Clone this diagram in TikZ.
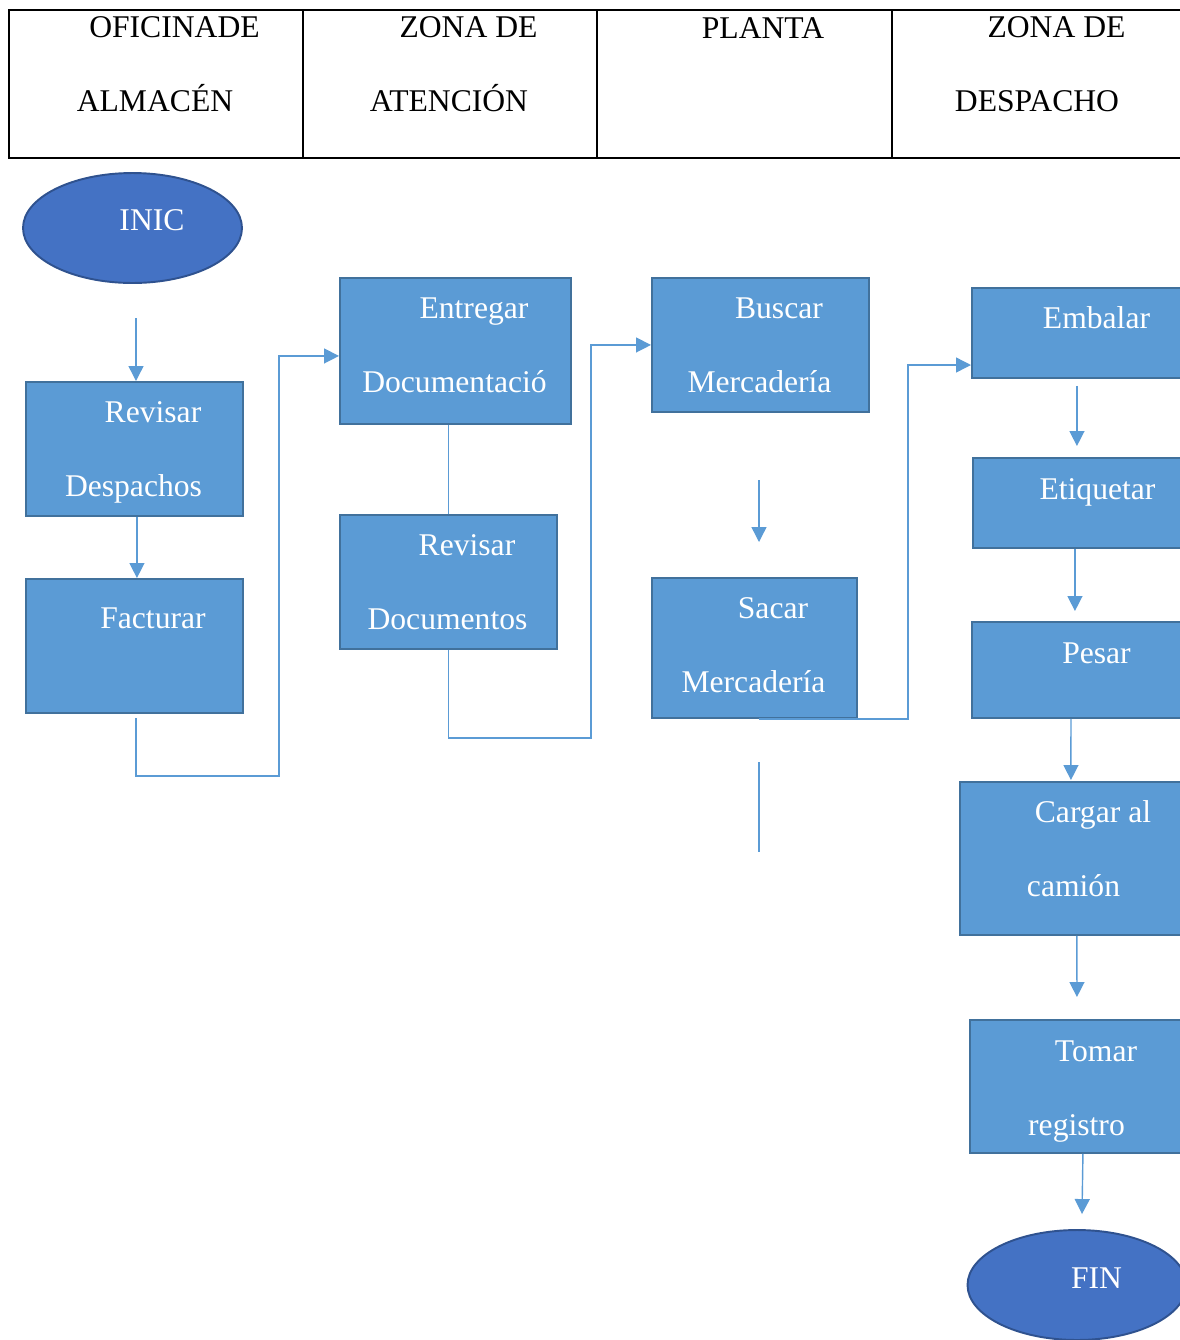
\documentclass[tikz,border=0pt]{standalone}
\usepackage{fontspec}
\setmainfont{Liberation Serif}
\usepackage{tikz}
\usetikzlibrary{shapes.geometric, arrows.meta, calc}
\usepackage{xcolor}
\definecolor{procfill}{RGB}{91, 155, 213}
\definecolor{procedge}{RGB}{65, 113, 156}
\definecolor{termfill}{RGB}{68, 114, 196}
\definecolor{termedge}{RGB}{47, 82, 143}
\definecolor{flowblue}{RGB}{91, 155, 213}
\newcommand{\firstind}{\hspace*{0.78cm}}

\begin{document}
\begin{tikzpicture}[
  x=0.02cm, y=-0.02cm,
  lane/.style={rectangle, draw=black, line width=1.1pt, minimum width=5.88cm, minimum height=2.96cm, anchor=north west, inner sep=0pt},
  proc/.style={rectangle, draw=procedge, fill=procfill, line width=1.1pt, minimum width=4.34cm, minimum height=2.68cm, anchor=north west, inner sep=0pt},
  term/.style={ellipse, draw=termedge, fill=termfill, line width=1.1pt, minimum width=4.38cm, minimum height=2.2cm, inner sep=0pt},
  txt/.style={anchor=base, text=white, align=center, inner sep=0pt, font=\fontsize{18pt}{42pt}\selectfont},
  head/.style={txt, text=black},
  link/.style={draw=flowblue, line width=0.8pt},
  arr/.style={link, -{Triangle[length=0.3cm, width=0.3cm]}},
]
  \useasboundingbox (0,0) rectangle (1180,1340);
  \clip (0,0) rectangle (1180,1340);

  % header lanes (text placed by the baseline of its last line)
  \node[lane] (lane1) at (8,9) {};
  \node[lane] (lane2) at (302,9) {};
  \node[lane, minimum width=5.9cm] (lane3) at (596,9) {};
  \node[lane] (lane4) at (891,9) {};
  \node[head] (lane1-t) at (155,111) {\firstind OFICINADE\\ALMACÉN};
  \node[head] (lane2-t) at (449,111) {\firstind ZONA DE\\ATENCIÓN};
  \node[head] (lane3-t) at (743.5,38) {\firstind PLANTA};
  \node[head] (lane4-t) at (1037,111) {\firstind ZONA DE\\DESPACHO};

  % oficina de almacen
  \node[term] (inic) at (132.5,228) {};
  \node[txt] (inic-t) at (132.5,230) {\firstind INIC};
  \node[proc] (revd) at (25,381) {};
  \node[txt] (revd-t) at (133.5,496) {\firstind Revisar\\Despachos};
  \node[proc] (fact) at (25,578) {};
  \node[txt] (fact-t) at (133.5,628) {\firstind Facturar};

  % zona de atencion
  \node[proc, minimum width=4.62cm, minimum height=2.92cm] (entr) at (339,277) {};
  \node[txt] (entr-t) at (454.5,392) {\firstind Entregar\\Documentació};
  \node[proc] (revdoc) at (339,514) {};
  \node[txt] (revdoc-t) at (447.5,629) {\firstind Revisar\\Documentos};

  % planta
  \node[proc] (busc) at (651,277) {};
  \node[txt] (busc-t) at (759.5,392) {\firstind Buscar\\Mercadería};
  \node[proc, minimum width=4.1cm, minimum height=2.8cm] (sacar) at (651,577) {};
  \node[txt] (sacar-t) at (753.5,692) {\firstind Sacar\\Mercadería};

  % zona de despacho
  \node[proc, minimum width=4.24cm, minimum height=1.8cm] (embal) at (971,287) {};
  \node[txt] (embal-t) at (1077,328) {\firstind Embalar};
  \node[proc, minimum width=4.24cm, minimum height=1.8cm] (etiq) at (972,457) {};
  \node[txt] (etiq-t) at (1078,499) {\firstind Etiquetar};
  \node[proc, minimum width=4.24cm, minimum height=1.92cm] (pesar) at (971,621) {};
  \node[txt] (pesar-t) at (1077,663) {\firstind Pesar};
  \node[proc, minimum width=4.56cm, minimum height=3.06cm] (cargar) at (959,781) {};
  \node[txt] (cargar-t) at (1073.5,896) {\firstind Cargar al\\camión};
  \node[proc, minimum width=4.28cm, minimum height=2.66cm] (tomar) at (969,1019) {};
  \node[txt] (tomar-t) at (1076.5,1135) {\firstind Tomar\\registro};
  \node[term] (fin) at (1077,1285) {};
  \node[txt] (fin-t) at (1077,1288) {\firstind FIN};

  % free ends and bends
  \coordinate (p1) at (136,318);
  \coordinate (p2) at (136,718);
  \coordinate (k1) at (279,776);
  \coordinate (k2) at (591,738);
  \coordinate (p3) at (759,480);
  \coordinate (p4) at (759,542);
  \coordinate (k3) at (908,365);
  \coordinate (p5) at (759,762);
  \coordinate (p6) at (759,852);

  \draw[arr] (p1) -- (p1 |- revd.north);
  \draw[arr] ($(revd.south)+(2.5,0)$) -- ($(fact.north)+(2.5,0)$);
  \draw[arr] (p2) |- (k1) |- ($(entr.west)+(0,5)$);
  \draw[link] (revdoc.north |- entr.south) -- (revdoc.north);
  \draw[arr] (revdoc.south) |- (k2) |- (busc.west);
  \draw[arr] (p3) -- (p4);
  \draw[arr] ($(sacar.south)+(4.5,0)$) -| (k3) -- (k3 -| embal.west);
  \draw[link] (p5) -- (p6);
  \draw[arr] ($(embal.south)+(-1,7)$) -- ($(etiq.north)+(-2,-11)$);
  \draw[arr] ($(etiq.south)+(-4,0)$) -- ($(pesar.north)+(-3,-10)$);
  \draw[arr] ($(pesar.south)+(-7,0)$) -- ($(cargar.north)+(-3,-1)$);
  \draw[arr] ($(cargar.south)+(3,0)$) -- ($(tomar.north)+(0,-22)$);
  \draw[arr] ($(tomar.south)+(6,0)$) -- ($(fin.north)+(5,-15)$);
\end{tikzpicture}
\end{document}
